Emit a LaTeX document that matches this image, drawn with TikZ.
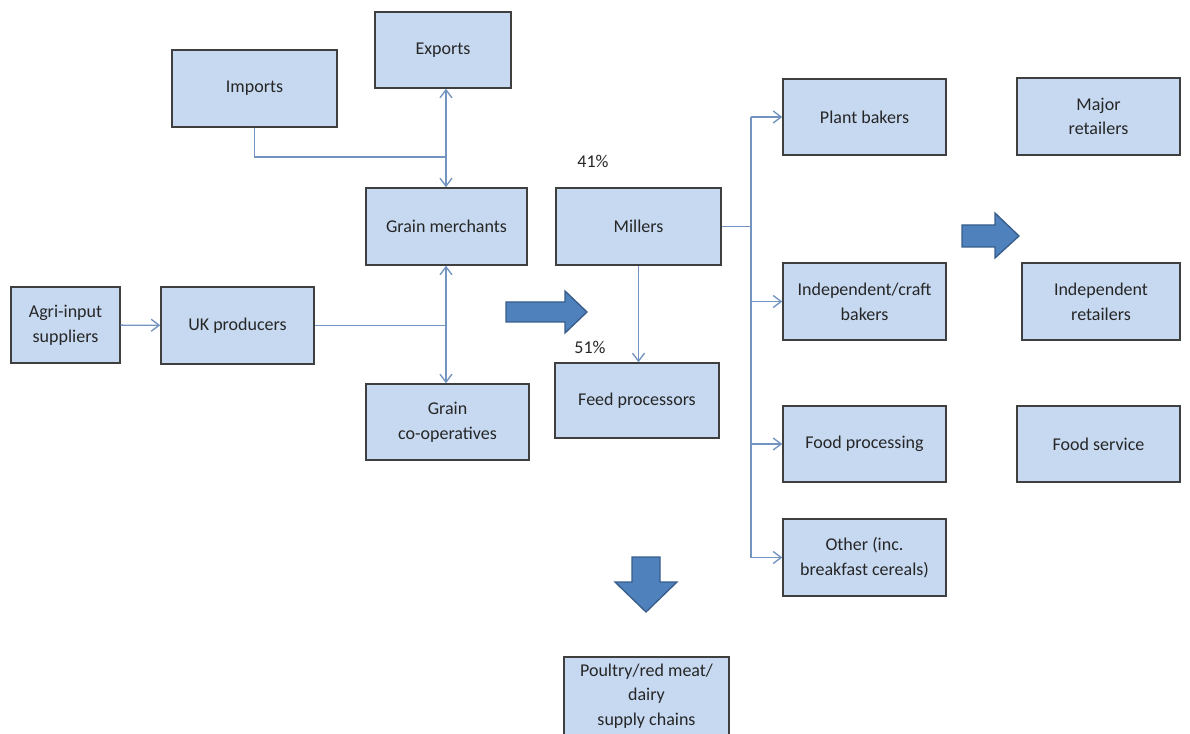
\documentclass[tikz,border=0pt]{standalone}
\usepackage{fontspec}
\setmainfont{Carlito}
\usetikzlibrary{arrows.meta}
\definecolor{boxfill}{HTML}{C6D9F1}
\definecolor{boxline}{HTML}{3F3F3F}
\definecolor{linkcol}{HTML}{7393C0}
\definecolor{bigfill}{HTML}{4F81BD}
\definecolor{bigline}{HTML}{385D8A}
\definecolor{txt}{HTML}{262626}
\tikzset{
  wh/.style 2 args={minimum width=#1*0.75pt, minimum height=#2*0.75pt},
  box/.style={draw=boxline, line width=1.1pt, fill=boxfill, align=center,
    inner sep=2pt, text=txt, font=\fontsize{13.5}{18.5}\selectfont},
  link/.style={draw=linkcol, line width=1pt},
  tip/.style={-{Straight Barb[length=6pt,width=9pt,line width=1pt]}},
  bitip/.style={{Straight Barb[length=6pt,width=9pt,line width=1pt]}-{Straight Barb[length=6pt,width=9pt,line width=1pt]}},
  bigarrow/.style={fill=bigfill, draw=bigline, line width=1pt, line join=miter},
  pct/.style={text=txt, font=\fontsize{13.5}{16}\selectfont, inner sep=0pt},
}
\begin{document}
\begin{tikzpicture}[x=0.75pt, y=-0.75pt]
\useasboundingbox (0,0) rectangle (1190,734);
\clip (0,0) rectangle (1190,734);

% supply side
\node[box, wh={136}{76}] (exports) at (443,50) {Exports};
\node[box, wh={165}{77}] (imports) at (254.5,88.5) {Imports};
\node[box, wh={161}{77}] (merchants) at (446.5,226.5) {Grain merchants};
\node[box, wh={109}{76}] (agri) at (65.5,325) {Agri-input\\suppliers};
\node[box, wh={153}{77}] (ukprod) at (237.5,325.5) {UK producers};
\node[box, wh={163}{76}] (coops) at (447.5,422) {Grain\\co-operatives};

% processing
\node[box, wh={165}{77}] (millers) at (638.5,226.5) {Millers};
\node[box, wh={164}{75}] (feed) at (637,400.5) {Feed processors};
\node[pct] (p41) at (593,161) {41\%};
\node[pct] (p51) at (590,347) {51\%};

% users of flour
\node[box, wh={163}{76}] (plant) at (864.5,117) {Plant bakers};
\node[box, wh={163}{77}] (craft) at (864.5,301.5) {Independent/craft\\bakers};
\node[box, wh={163}{76}] (foodproc) at (864.5,444) {Food processing};
\node[box, wh={163}{77}] (other) at (864.5,557.5) {Other (inc.\\breakfast cereals)};

% retail and service
\node[box, wh={163}{77}] (major) at (1098.5,116.5) {Major\\retailers};
\node[box, wh={158}{77}] (indret) at (1101,301.5) {Independent\\retailers};
\node[box, wh={163}{76}] (service) at (1098.5,444) {Food service};

% livestock chains
\node[box, wh={165}{90}] (poultry) at (646.5,702) {};
\node[text=txt, font=\fontsize{13.5}{18.5}\selectfont, align=center] (poultrytext) at (646.5,696) {Poultry/red meat/\\dairy\\supply chains};

% connectors
\coordinate (mx) at (446,157);
\coordinate (ux) at (446,325.5);
\coordinate (bus) at (751,226.5);
\draw[link, bitip] (exports.south -| mx) -- (merchants.north -| mx);
\draw[link] (imports.south) |- (mx);
\draw[link, tip] (agri) -- (ukprod);
\draw[link] (ukprod.east) -- (ux);
\draw[link, bitip] (merchants.south -| ux) -- (coops.north -| ux);
\draw[link, tip] (millers.south) -- (millers.south |- feed.north);
\draw[link] (millers.east) -- (bus);
\draw[link] (bus |- plant) -- (bus |- other);
\draw[link, tip] (bus |- plant) -- (plant.west);
\draw[link, tip] (bus |- craft) -- (craft.west);
\draw[link, tip] (bus |- foodproc) -- (foodproc.west);
\draw[link, tip] (bus |- other) -- (other.west);

% flow arrows
\draw[bigarrow] (506,302) -- (565,302) -- (565,291) -- (587,312) -- (565,333) -- (565,322) -- (506,322) -- cycle;
\draw[bigarrow] (962,225) -- (995,225) -- (995,213) -- (1019,236) -- (995,258) -- (995,247) -- (962,247) -- cycle;
\draw[bigarrow] (632,557) -- (660,557) -- (660,582) -- (677,582) -- (646,612) -- (615,582) -- (632,582) -- cycle;
\end{tikzpicture}
\end{document}
